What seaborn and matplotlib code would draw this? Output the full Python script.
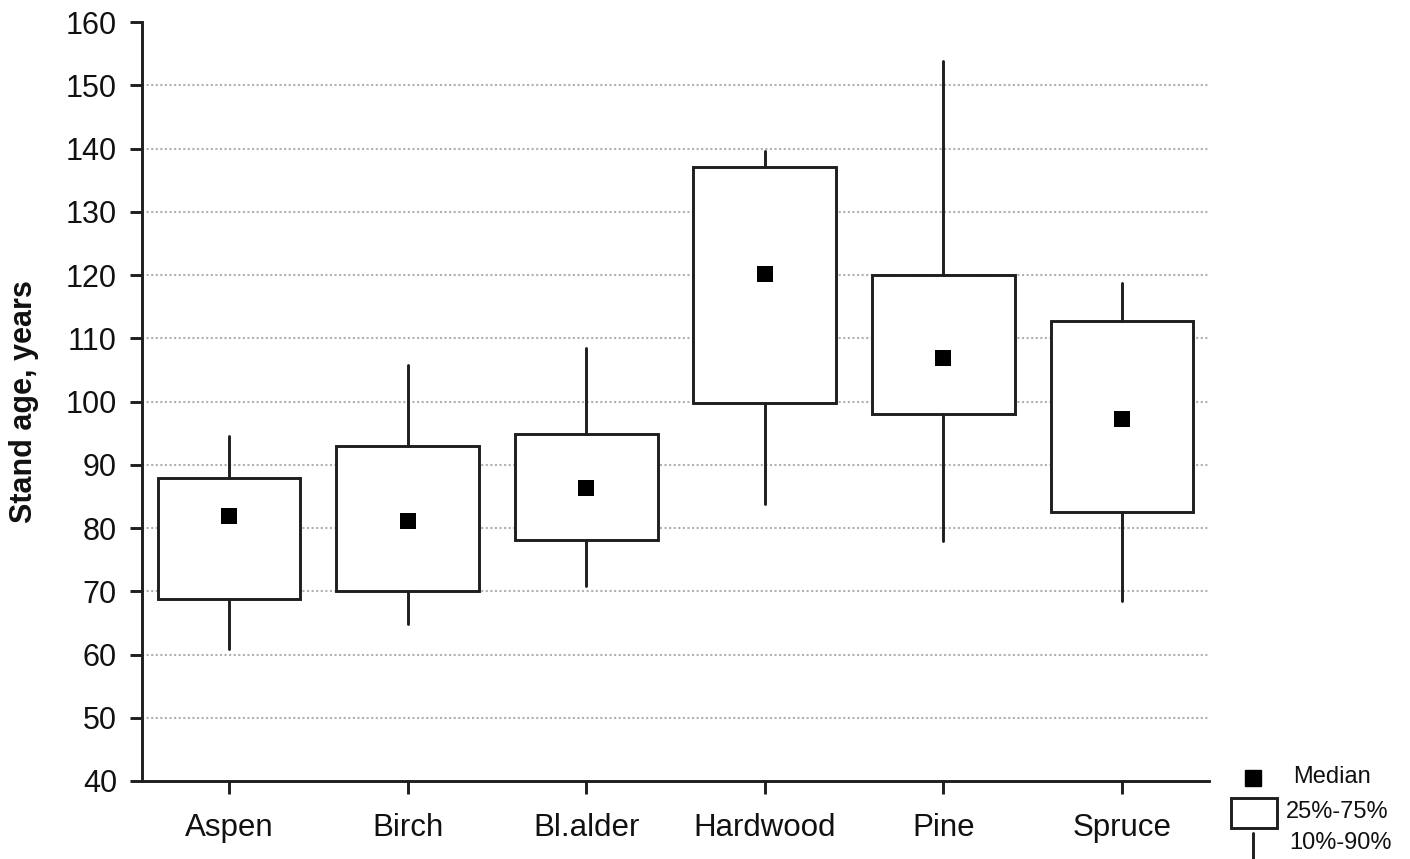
import numpy as np
import matplotlib
matplotlib.use("Agg")
import matplotlib.pyplot as plt
from matplotlib.lines import Line2D
from matplotlib.patches import Rectangle
import seaborn as sns

# ---- data ----
species = ["Aspen", "Birch", "Bl.alder", "Hardwood", "Pine", "Spruce"]
p10 = [60.8, 64.8, 70.8, 83.8, 78.0, 68.5]
p25 = [68.7, 70.0, 78.1, 99.8, 98.0, 82.5]
median = [81.9, 81.1, 86.4, 120.2, 106.8, 97.3]
p75 = [87.9, 93.0, 94.8, 137.1, 120.0, 112.8]
p90 = [94.5, 105.7, 108.5, 139.6, 153.8, 118.8]
yticks = list(range(40, 161, 10))
ylabel = "Stand age, years"
legend_labels = ["Median", "25%-75%", "10%-90%"]

sns.set_style("ticks")
plt.rcParams["font.family"] = ["Liberation Sans", "DejaVu Sans"]

W, H, DPI = 1410, 859, 100
fig = plt.figure(figsize=(W / DPI, H / DPI), dpi=DPI)
ax = fig.add_axes([142 / W, 1 - 781 / H, (1209 - 142) / W, (781 - 22) / H])

ink = "#1e1e1e"
txt = "#111111"
lw = 2.1

positions = np.arange(len(species))
stats = [
    dict(whislo=a, q1=b, med=c, q3=d, whishi=e, fliers=[])
    for a, b, c, d, e in zip(p10, p25, median, p75, p90)
]
ax.bxp(
    stats,
    positions=positions,
    widths=0.8,
    patch_artist=True,
    showcaps=False,
    showfliers=False,
    boxprops=dict(facecolor="white", edgecolor=ink, linewidth=lw),
    whiskerprops=dict(color=ink, linewidth=lw),
    medianprops=dict(linewidth=0),
    zorder=2,
)
sns.scatterplot(x=positions, y=median, marker="s", s=140, color="black",
                linewidth=0, ax=ax, zorder=3, legend=False)

ax.set_xticks(positions)
ax.set_xticklabels(species)
ax.set_xlim(-0.487, len(species) - 0.513)
ax.set_ylim(40, 160)
ax.set_yticks(yticks)

ax.yaxis.grid(True, linestyle=(0, (1.0, 1.2)), color="#b0b0b0", linewidth=1.5, zorder=0)
ax.xaxis.grid(False)
ax.set_axisbelow(True)
gl = ax.yaxis.get_gridlines()
gl[-1].set_visible(False)
gl[0].set_visible(False)

for s in ["top", "right"]:
    ax.spines[s].set_visible(False)
for s in ["left", "bottom"]:
    ax.spines[s].set_linewidth(lw)
    ax.spines[s].set_color(ink)

ax.tick_params(axis="both", direction="out", length=9, width=lw, color=ink,
               labelsize=22, labelcolor=txt)
ax.tick_params(axis="x", pad=14)
ax.tick_params(axis="y", pad=9)
for lab in ax.get_xticklabels():
    lab.set_fontsize(22.5)

ax.set_ylabel(ylabel, fontsize=22, fontweight="bold", color=txt)
ax.yaxis.set_label_coords((39 - 142) / (1209 - 142), 0.5)
ax.set_xlabel("")

# ---- custom legend (bottom right, figure pixel coordinates) ----
def fx(px):
    return px / W

def fy(py):
    return 1 - py / H

fig.add_artist(Line2D([fx(1253)], [fy(778)], marker="s", markersize=11.5,
                      color="black", linestyle="none", transform=fig.transFigure))
fig.add_artist(Rectangle((fx(1231), fy(828)), (1277 - 1231) / W, 30 / H,
                         facecolor="white", edgecolor=ink, linewidth=lw,
                         transform=fig.transFigure))
fig.add_artist(Line2D([fx(1253), fx(1253)], [fy(833), fy(862)], color=ink,
                      linewidth=lw, transform=fig.transFigure))
leg_fs = 17
fig.text(fx(1293), fy(777), legend_labels[0], fontsize=leg_fs, va="center", ha="left", color=txt)
fig.text(fx(1286), fy(812), legend_labels[1], fontsize=leg_fs, va="center", ha="left", color=txt)
fig.text(fx(1289), fy(843), legend_labels[2], fontsize=leg_fs, va="center", ha="left", color=txt)

fig.savefig("out.png", dpi=DPI)
